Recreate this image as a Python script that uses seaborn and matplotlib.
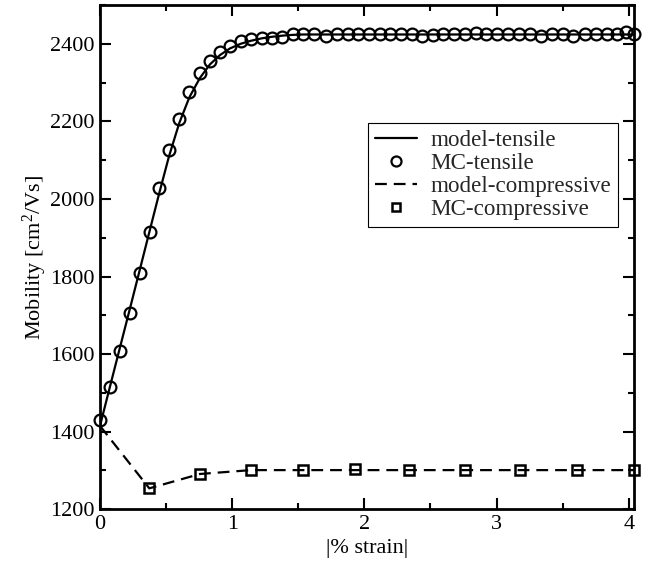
import matplotlib
matplotlib.use('Agg')
import matplotlib.pyplot as plt
import seaborn as sns
import pandas as pd
from matplotlib.ticker import MultipleLocator

# ---------------- data ----------------
tens_x = [0.000, 0.076, 0.151, 0.227, 0.303, 0.378, 0.449, 0.522, 0.600, 0.676,
          0.756, 0.832, 0.908, 0.983, 1.064, 1.144, 1.223, 1.299, 1.379, 1.458,
          1.538, 1.619, 1.710, 1.791, 1.874, 1.954, 2.037, 2.118, 2.194, 2.274,
          2.358, 2.438, 2.521, 2.597, 2.678, 2.761, 2.841, 2.920, 3.005, 3.084,
          3.169, 3.253, 3.334, 3.417, 3.500, 3.580, 3.669, 3.752, 3.833, 3.908,
          3.979, 4.040]
tens_mc = [1431, 1514, 1607, 1706, 1809, 1914, 2028, 2125, 2206, 2275,
           2324, 2356, 2378, 2395, 2406, 2412, 2415, 2416, 2418, 2425,
           2425, 2425, 2419, 2424, 2425, 2425, 2424, 2425, 2424, 2424,
           2424, 2419, 2423, 2425, 2426, 2426, 2428, 2426, 2425, 2425,
           2424, 2424, 2419, 2424, 2425, 2419, 2424, 2425, 2425, 2425,
           2431, 2425]
tens_model = [1415, 1517, 1617, 1718, 1820, 1921, 2016, 2110, 2196, 2262,
              2312, 2347, 2371, 2388, 2400, 2408, 2414, 2418, 2421, 2423,
              2424, 2424, 2424, 2424, 2424, 2424, 2424, 2424, 2424, 2424,
              2424, 2424, 2424, 2424, 2424, 2424, 2424, 2424, 2424, 2424,
              2424, 2424, 2424, 2424, 2424, 2424, 2424, 2424, 2424, 2424,
              2424, 2424]

comp_model_x = [0.000, 0.373, 0.756, 1.142, 1.538, 1.931, 2.337, 2.759, 3.177, 3.606, 4.039]
comp_model = [1415, 1254, 1291, 1301, 1301, 1301, 1301, 1301, 1301, 1301, 1301]
comp_mc_x = [0.373, 0.756, 1.142, 1.538, 1.931, 2.337, 2.759, 3.177, 3.606, 4.039]
comp_mc = [1254, 1291, 1302, 1301, 1303, 1301, 1301, 1301, 1301, 1301]

x_ticks = [0, 1, 2, 3, 4]
y_ticks = [1200, 1400, 1600, 1800, 2000, 2200, 2400]

tens_df = pd.DataFrame({'strain': tens_x, 'mc': tens_mc, 'model': tens_model})
comp_model_df = pd.DataFrame({'strain': comp_model_x, 'model': comp_model})
comp_mc_df = pd.DataFrame({'strain': comp_mc_x, 'mc': comp_mc})

# ---------------- style ----------------
sns.set_style('ticks')
plt.rcParams['font.family'] = ['Liberation Serif', 'DejaVu Serif']
plt.rcParams['mathtext.fontset'] = 'custom'
plt.rcParams['mathtext.rm'] = 'Liberation Serif'
plt.rcParams['mathtext.it'] = 'Liberation Serif:italic'
plt.rcParams['lines.scale_dashes'] = False

fig = plt.figure(figsize=(6.54, 5.62), dpi=100)
ax = fig.add_axes([0.1529, 0.0938, 0.8170, 0.8973])

sns.lineplot(data=tens_df, x='strain', y='model', ax=ax, color='black',
             linewidth=1.6, estimator=None, sort=False, label='model-tensile')
sns.lineplot(data=tens_df, x='strain', y='mc', ax=ax, color='black',
             linestyle='none', marker='o', markersize=8.5,
             markerfacecolor='none', markeredgecolor='black',
             markeredgewidth=1.6, estimator=None, sort=False,
             label='MC-tensile', clip_on=False)
sns.lineplot(data=comp_model_df, x='strain', y='model', ax=ax, color='black',
             linewidth=1.6, dashes=False, estimator=None, sort=False,
             label='model-compressive')
ax.lines[-1].set_dashes((8.5, 5.0))
sns.lineplot(data=comp_mc_df, x='strain', y='mc', ax=ax, color='black',
             linestyle='none', marker='s', markersize=7.5,
             markerfacecolor='none', markeredgecolor='black',
             markeredgewidth=1.8, estimator=None, sort=False,
             label='MC-compressive', clip_on=False)

ax.set_xlim(0, 4.042)
ax.set_ylim(1200, 2500)
ax.set_xticks(x_ticks)
ax.set_yticks(y_ticks)
ax.xaxis.set_minor_locator(MultipleLocator(0.5))
ax.yaxis.set_minor_locator(MultipleLocator(100))
ax.tick_params(which='both', direction='in', top=True, right=True,
               width=1.5, labelsize=16, color='black', labelcolor='black')
ax.tick_params(which='major', length=8, pad=4)
ax.tick_params(which='minor', length=4)
for s in ax.spines.values():
    s.set_linewidth(2.0)
    s.set_color('black')

ax.set_xlabel('|% strain|', fontsize=16, color='black', labelpad=4)
ax.set_ylabel('Mobility [cm$^2$/Vs]', fontsize=16, color='black', labelpad=0.5)

leg = ax.legend(loc='upper left', bbox_to_anchor=(0.502, 0.7654),
                borderaxespad=0, frameon=True, fancybox=False,
                edgecolor='black', framealpha=1, fontsize=16.6,
                handlelength=1.8, handletextpad=0.6, labelspacing=0.08,
                borderpad=0.3, markerscale=0.85)
leg.get_frame().set_linewidth(0.8)

fig.savefig('out.png', dpi=100)
